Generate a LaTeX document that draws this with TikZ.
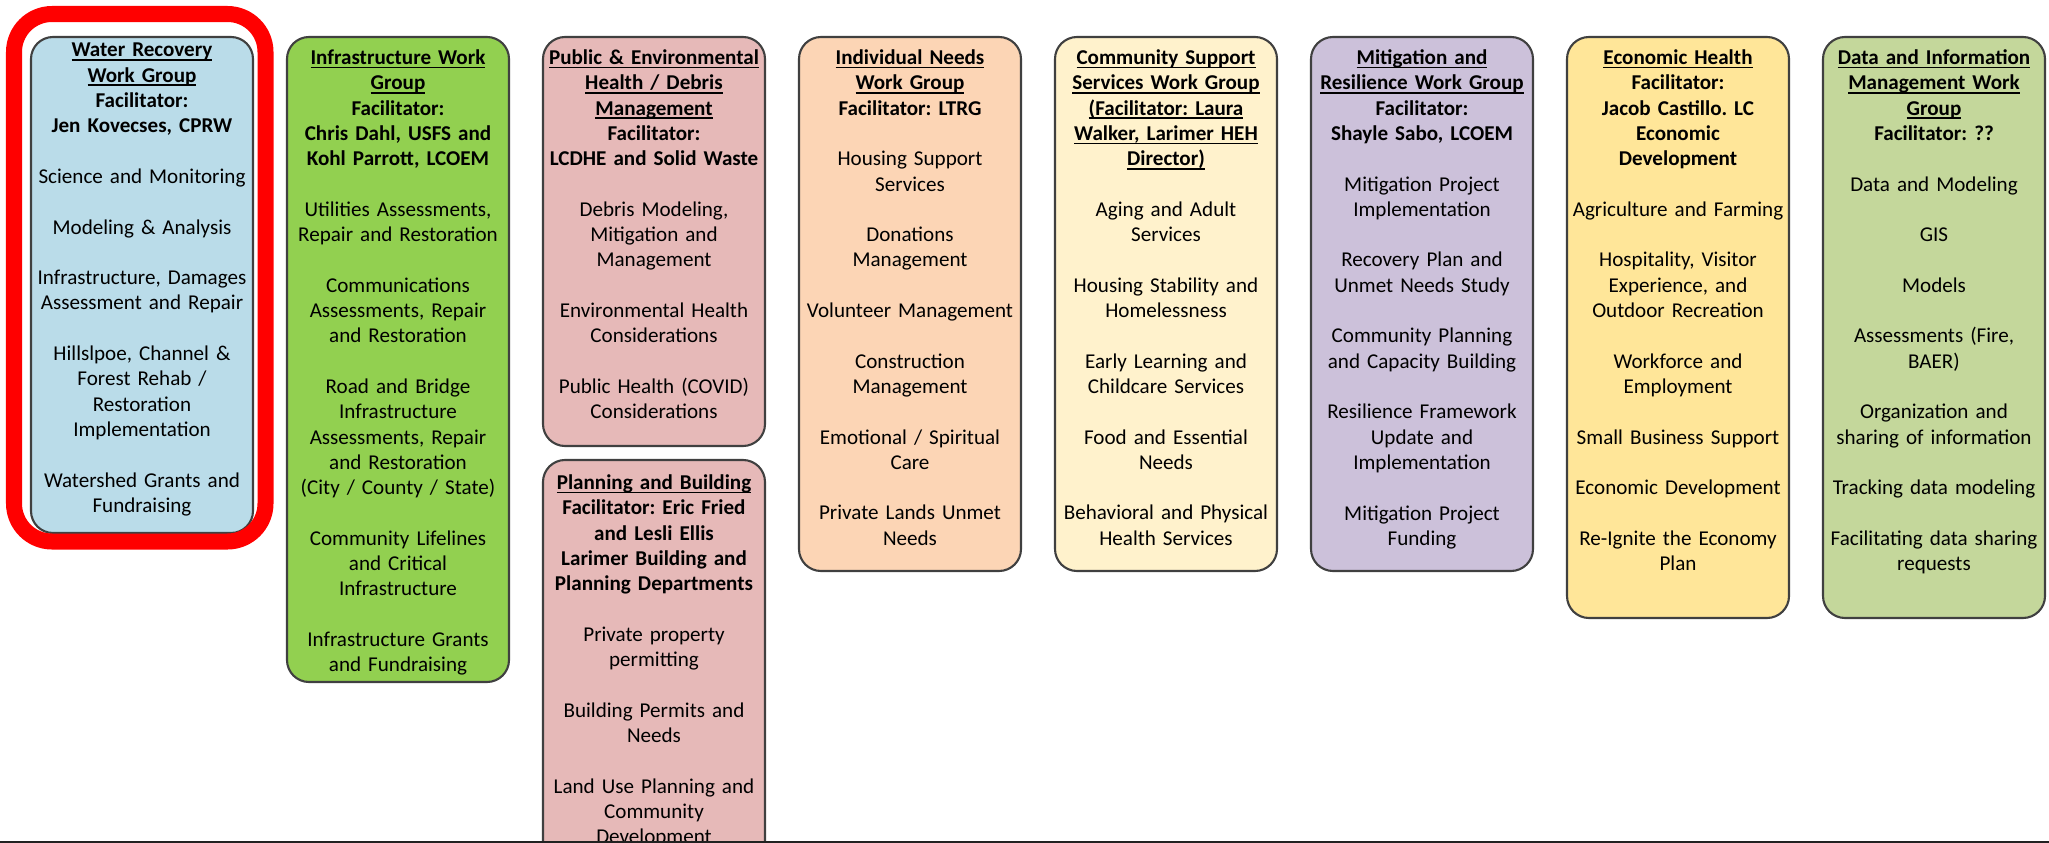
\documentclass[tikz,border=0pt]{standalone}
\usepackage{fontspec}
\setmainfont{Carlito}
\usetikzlibrary{positioning}
\frenchspacing

\definecolor{wrblue}{HTML}{BADCE9}
\definecolor{infgreen}{HTML}{92D050}
\definecolor{pubpink}{HTML}{E6B9B8}
\definecolor{indpeach}{HTML}{FCD5B5}
\definecolor{comcream}{HTML}{FFF2CC}
\definecolor{mitlav}{HTML}{CCC1DA}
\definecolor{ecoyellow}{HTML}{FFE699}
\definecolor{dataolive}{HTML}{C4D79B}

\newsavebox\hdbox
\newcommand{\hd}[1]{\leavevmode\sbox\hdbox{\textbf{#1}}\rlap{\rule[-1.1pt]{\wd\hdbox}{0.45pt}}\usebox\hdbox}
\newcommand{\gap}{\\[7.2pt]}

\tikzset{
  wgbox/.style={draw=black!75, line width=0.6pt, rounded corners=0.22cm,
    minimum width=2.22cm, inner sep=0pt, outer sep=0pt, anchor=north west},
  wgtext/.style={text width=2.22cm, align=center, inner sep=0pt,
    font=\fontsize{6}{7.2}\selectfont},
}

\begin{document}
\begin{tikzpicture}
\useasboundingbox (0,0) rectangle (20.49,-8.43);
\clip (0,0) rectangle (20.49,-8.43);
\fill[white] (0,0) rectangle (20.49,-8.43);

% work group boxes
\node[wgbox, fill=wrblue, minimum height=4.96cm] (water) at (0.31,-0.37) {};
\node[wgbox, fill=infgreen, minimum height=6.45cm, right=0.34cm of water.north east, anchor=north west] (infra) {};
\node[wgbox, fill=pubpink, minimum height=4.09cm, right=0.34cm of infra.north east, anchor=north west] (public) {};
\node[wgbox, fill=pubpink, minimum height=5cm, below=0.14cm of public.south west, anchor=north west] (planning) {};
\node[wgbox, fill=indpeach, minimum height=5.34cm, right=0.34cm of public.north east, anchor=north west] (indiv) {};
\node[wgbox, fill=comcream, minimum height=5.34cm, right=0.34cm of indiv.north east, anchor=north west] (commun) {};
\node[wgbox, fill=mitlav, minimum height=5.34cm, right=0.34cm of commun.north east, anchor=north west] (mitig) {};
\node[wgbox, fill=ecoyellow, minimum height=5.81cm, right=0.34cm of mitig.north east, anchor=north west] (econ) {};
\node[wgbox, fill=dataolive, minimum height=5.81cm, right=0.34cm of econ.north east, anchor=north west] (data) {};

% texts
\node[wgtext, below=0.055cm of water.north] (waterTxt) {\hd{Water Recovery}\\ \hd{Work Group}\\
  \textbf{Facilitator:}\\ \textbf{Jen Kovecses, CPRW}\gap
  Science and Monitoring\gap
  Modeling \& Analysis\gap
  Infrastructure, Damages\\ Assessment and Repair\gap
  Hillslpoe, Channel \&\\ Forest Rehab /\\ Restoration\\ Implementation\gap
  Watershed Grants and\\ Fundraising};
\node[wgtext, below=0.12cm of infra.north] (infraTxt) {\hd{Infrastructure Work}\\ \hd{Group}\\
  \textbf{Facilitator:}\\ \textbf{Chris Dahl, USFS and}\\ \textbf{Kohl Parrott, LCOEM}\gap
  Utilities Assessments,\\ Repair and Restoration\gap
  Communications\\ Assessments, Repair\\ and Restoration\gap
  Road and Bridge\\ Infrastructure\\ Assessments, Repair\\ and Restoration\\ (City / County / State)\gap
  Community Lifelines\\ and Critical\\ Infrastructure\gap
  Infrastructure Grants\\ and Fundraising};
\node[wgtext, below=0.12cm of public.north] (publicTxt) {\hd{Public \& Environmental}\\ \hd{Health / Debris}\\ \hd{Management}\\
  \textbf{Facilitator:}\\ \textbf{LCDHE and Solid Waste}\gap
  Debris Modeling,\\ Mitigation and\\ Management\gap
  Environmental Health\\ Considerations\gap
  Public Health (COVID)\\ Considerations};
\node[wgtext, below=0.14cm of planning.north] (planningTxt) {\hd{Planning and Building}\\
  \textbf{Facilitator: Eric Fried}\\ \textbf{and Lesli Ellis}\\ \textbf{Larimer Building and}\\ \textbf{Planning Departments}\gap
  Private property\\ permitting\gap
  Building Permits and\\ Needs\gap
  Land Use Planning and\\ Community\\ Development};
\node[wgtext, below=0.12cm of indiv.north] (indivTxt) {\hd{Individual Needs}\\ \hd{Work Group}\\
  \textbf{Facilitator: LTRG}\gap
  Housing Support\\ Services\gap
  Donations\\ Management\gap
  Volunteer Management\gap
  Construction\\ Management\gap
  Emotional / Spiritual\\ Care\gap
  Private Lands Unmet\\ Needs};
\node[wgtext, below=0.12cm of commun.north] (communTxt) {\hd{Community Support}\\ \hd{Services Work Group}\\
  \hd{(Facilitator: Laura}\\ \hd{Walker, Larimer HEH}\\ \hd{Director)}\gap
  Aging and Adult\\ Services\gap
  Housing Stability and\\ Homelessness\gap
  Early Learning and\\ Childcare Services\gap
  Food and Essential\\ Needs\gap
  Behavioral and Physical\\ Health Services};
\node[wgtext, below=0.12cm of mitig.north] (mitigTxt) {\hd{Mitigation and}\\ \hd{Resilience Work Group}\\
  \textbf{Facilitator:}\\ \textbf{Shayle Sabo, LCOEM}\gap
  Mitigation Project\\ Implementation\gap
  Recovery Plan and\\ Unmet Needs Study\gap
  Community Planning\\ and Capacity Building\gap
  Resilience Framework\\ Update and\\ Implementation\gap
  Mitigation Project\\ Funding};
\node[wgtext, below=0.12cm of econ.north] (econTxt) {\hd{Economic Health}\\
  \textbf{Facilitator:}\\ \textbf{Jacob Castillo. LC}\\ \textbf{Economic}\\ \textbf{Development}\gap
  Agriculture and Farming\gap
  Hospitality, Visitor\\ Experience, and\\ Outdoor Recreation\gap
  Workforce and\\ Employment\gap
  Small Business Support\gap
  Economic Development\gap
  Re-Ignite the Economy\\ Plan};
\node[wgtext, below=0.12cm of data.north] (dataTxt) {\hd{Data and Information}\\ \hd{Management Work}\\ \hd{Group}\\
  \textbf{Facilitator: ??}\gap
  Data and Modeling\gap
  GIS\gap
  Models\gap
  Assessments (Fire,\\ BAER)\gap
  Organization and\\ sharing of information\gap
  Tracking data modeling\gap
  Facilitating data sharing\\ requests};

% red highlight round the first box
\draw[red, line width=0.16cm, rounded corners=0.38cm] (0.14,-0.14) rectangle (2.655,-5.415);

% bar at the bottom
\fill[black!87] (0,-8.405) rectangle (20.49,-8.43);
\end{tikzpicture}
\end{document}
